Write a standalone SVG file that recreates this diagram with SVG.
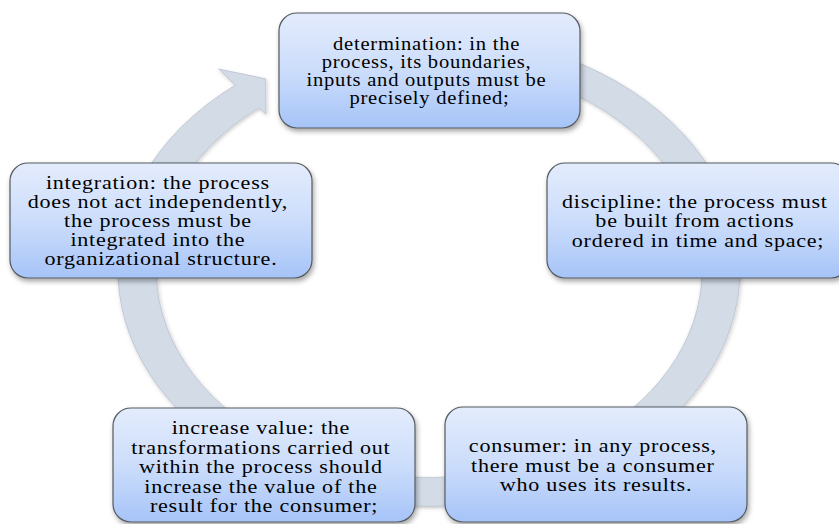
<svg xmlns="http://www.w3.org/2000/svg" width="839" height="524" viewBox="0 0 839 524">
<defs>
<linearGradient id="boxGrad" x1="0" y1="0" x2="0" y2="1">
<stop offset="0" stop-color="#E3ECFC"/>
<stop offset="0.5" stop-color="#CCDDFB"/>
<stop offset="1" stop-color="#A6C4F8"/>
</linearGradient>
<filter id="shadow" x="-10%" y="-10%" width="125%" height="135%">
<feDropShadow dx="1.5" dy="3" stdDeviation="2.5" flood-color="#000" flood-opacity="0.35"/>
</filter>
<filter id="ringShadow" x="-10%" y="-10%" width="120%" height="120%">
<feDropShadow dx="1" dy="2" stdDeviation="2" flood-color="#000" flood-opacity="0.2"/>
</filter>
</defs>
<style>
.box{fill:url(#boxGrad);stroke:#555a60;stroke-width:1.2;filter:url(#shadow)}
.ring{fill:#D3DBE7;stroke:#B9C1CD;stroke-width:0.8;filter:url(#ringShadow)}
.t{font-family:"Liberation Serif","Times New Roman",serif;font-size:19.2px;letter-spacing:0.65px;fill:#000;text-anchor:middle}
.ts{font-size:17.9px}
</style>
<rect width="839" height="524" fill="#FFFFFF"/>
<g id="connectors">
<path class="ring" vector-effect="non-scaling-stroke" transform="translate(429,270) scale(1,0.76)" d="M -106.4 -292.2 A 311 311 0 1 1 -193.6 -243.4 L -210.4 -264.5 L -163.4 -251.6 L -163.1 -205.0 L -169.9 -213.6 A 273 273 0 1 0 -93.4 -256.5 Z"/>
</g>
<g id="node-determination">
<rect class="box" x="279" y="13" width="301" height="115" rx="18"/>
<text class="t ts" transform="translate(429.5,0) scale(1.15,1)">
<tspan x="0" y="49.7">determination: in the</tspan>
<tspan x="0" y="67.9">process, its boundaries,</tspan>
<tspan x="0" y="86.1">inputs and outputs must be</tspan>
<tspan x="0" y="104.3">precisely defined;</tspan>
</text>
</g>
<g id="node-discipline">
<rect class="box" x="547" y="163" width="302" height="115" rx="18"/>
<text class="t" transform="translate(698,0) scale(1.15,1)">
<tspan x="0" y="208">discipline: the process must</tspan>
<tspan x="0" y="227.5">be built from actions</tspan>
<tspan x="0" y="247">ordered in time and space;</tspan>
</text>
</g>
<g id="node-consumer">
<rect class="box" x="445" y="407" width="302" height="115" rx="18"/>
<text class="t" transform="translate(596,0) scale(1.15,1)">
<tspan x="0" y="452.5">consumer: in any process,</tspan>
<tspan x="0" y="472">there must be a consumer</tspan>
<tspan x="0" y="491.5">who uses its results.</tspan>
</text>
</g>
<g id="node-increase-value">
<rect class="box" x="113" y="408" width="302" height="114" rx="18"/>
<text class="t" transform="translate(264,0) scale(1.15,1)">
<tspan x="0" y="434.5">increase value: the</tspan>
<tspan x="0" y="454">transformations carried out</tspan>
<tspan x="0" y="473.5">within the process should</tspan>
<tspan x="0" y="493">increase the value of the</tspan>
<tspan x="0" y="512.5">result for the consumer;</tspan>
</text>
</g>
<g id="node-integration">
<rect class="box" x="10" y="163" width="302" height="115" rx="18"/>
<text class="t" transform="translate(161,0) scale(1.15,1)">
<tspan x="0" y="189.2">integration: the process</tspan>
<tspan x="0" y="208.2">does not act independently,</tspan>
<tspan x="0" y="227.2">the process must be</tspan>
<tspan x="0" y="246.2">integrated into the</tspan>
<tspan x="0" y="265.2">organizational structure.</tspan>
</text>
</g>
</svg>
